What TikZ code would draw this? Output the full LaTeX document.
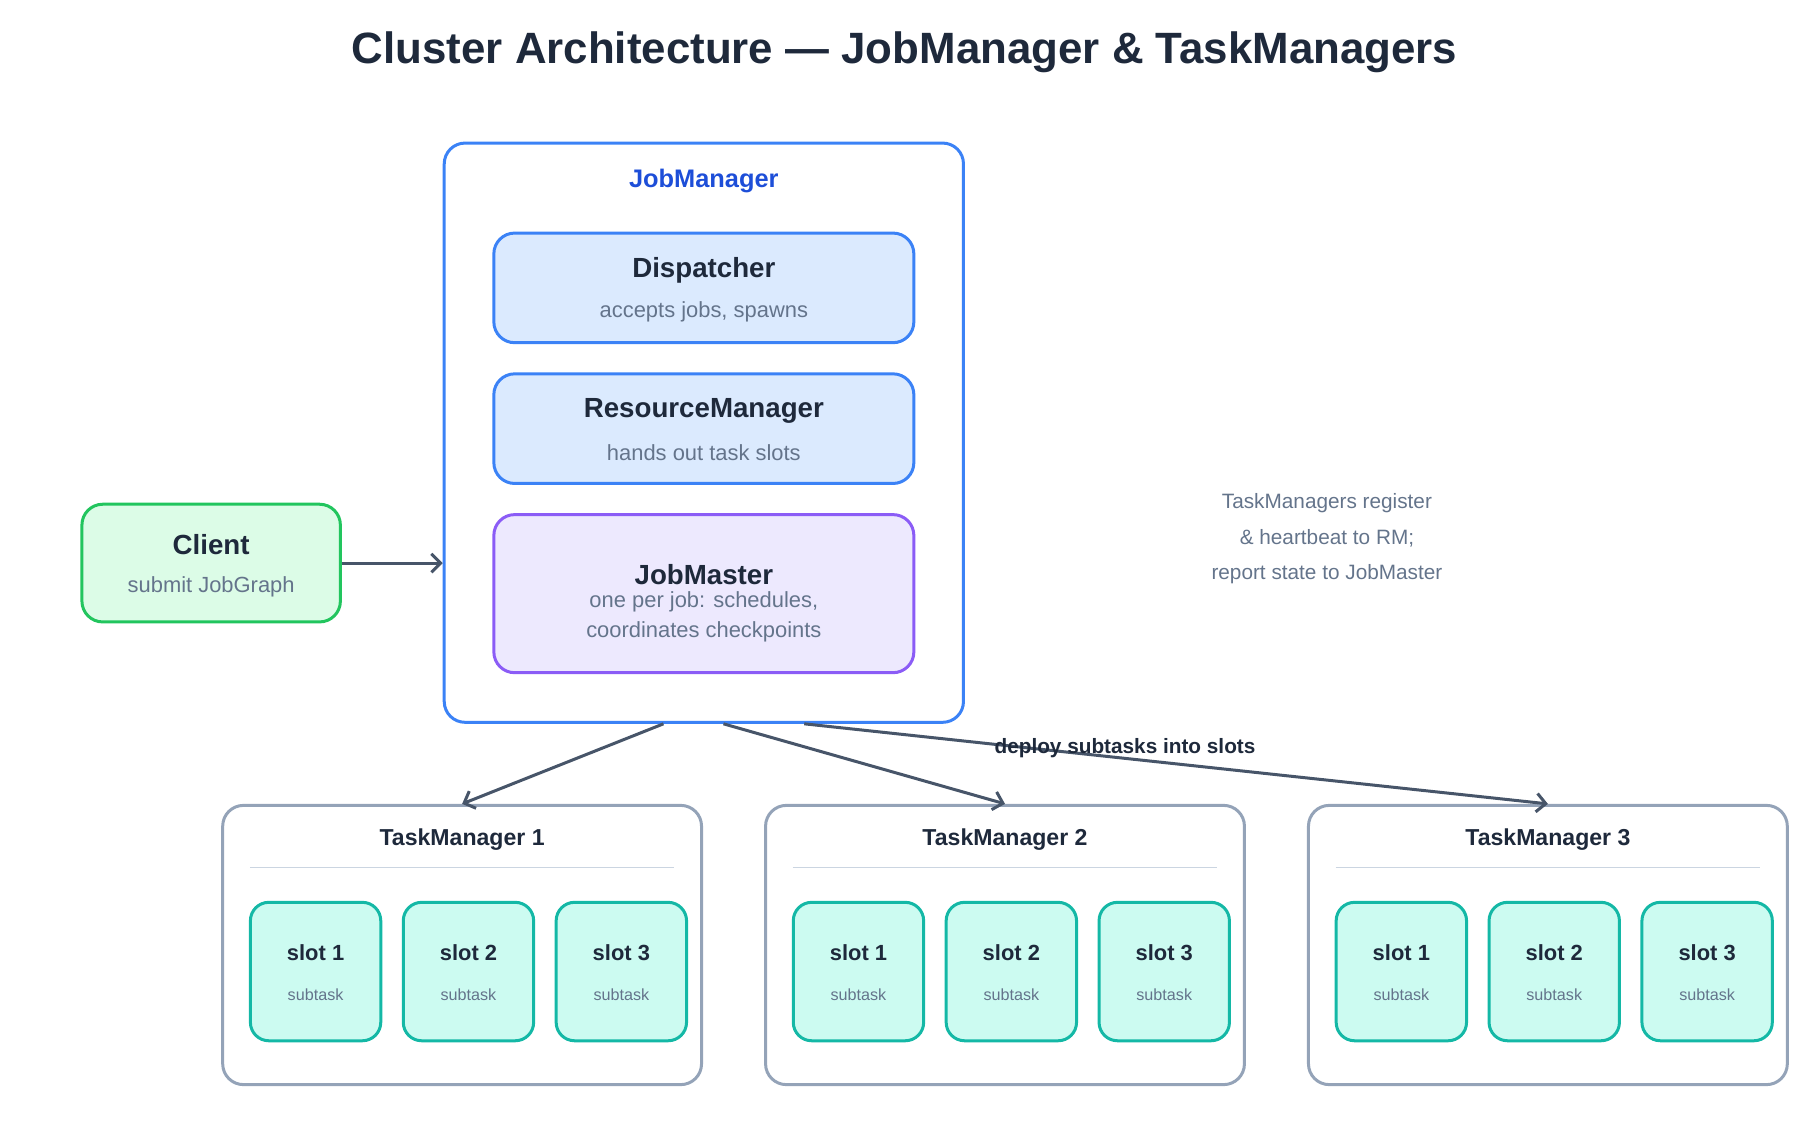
\documentclass[tikz,border=0pt]{standalone}
\usepackage{fontspec}
\setmainfont{Liberation Sans}
\usetikzlibrary{positioning}
\usetikzlibrary{calc}
\usetikzlibrary{arrows.meta}
\definecolor{ink}{HTML}{1E293B}
\definecolor{muted}{HTML}{64748B}
\definecolor{edge}{HTML}{475569}
\definecolor{jmblue}{HTML}{3B82F6}
\definecolor{jmtext}{HTML}{1D4ED8}
\definecolor{compfill}{HTML}{DBEAFE}
\definecolor{masterfill}{HTML}{EDE9FE}
\definecolor{masterline}{HTML}{8B5CF6}
\definecolor{clientfill}{HTML}{DCFCE7}
\definecolor{clientline}{HTML}{22C55E}
\definecolor{tmline}{HTML}{94A3B8}
\definecolor{rule}{HTML}{CBD5E1}
\definecolor{slotfill}{HTML}{CCFBF1}
\definecolor{slotline}{HTML}{14B8A6}
\tikzset{
  box/.style={draw, rounded corners=18pt, line width=2.6pt, inner sep=0pt},
  comp/.style={box, fill=compfill, draw=jmblue, minimum width=364pt, minimum height=95pt},
  slot/.style={draw=slotline, fill=slotfill, rounded corners=16pt, line width=2.6pt, minimum width=113pt, minimum height=120pt},
  head/.style={font=\bfseries\fontsize{24}{28}\selectfont, text=ink},
  sub/.style={font=\fontsize{19}{23}\selectfont, text=muted},
  flow/.style={-{Straight Barb[length=8pt,width=16pt]}, draw=edge, line width=2.6pt},
}
\begin{document}
\begin{tikzpicture}[x=1pt,y=-1pt]
	\useasboundingbox (0,0) rectangle (1560,971);
	\node[font=\bfseries\fontsize{38}{42}\selectfont, text=ink] (title) at (784,45) {Cluster Architecture — JobManager \& TaskManagers};
	% JobManager and its parts
	\node[box, draw=jmblue, minimum width=450pt, minimum height=502pt] (jm) at (610,375) {};
	\node[font=\bfseries\fontsize{22}{26}\selectfont, text=jmtext] (jmlabel) at (610,157) {JobManager};
	\node[comp] (disp) at (610,249.5) {};
	\node[head] at (610,234) {Dispatcher};
	\node[sub] at (610,270) {accepts jobs, spawns};
	\node[comp] (rm) at (610,371.5) {};
	\node[head] at (610,356) {ResourceManager};
	\node[sub] at (610,392) {hands out task slots};
	\node[comp, fill=masterfill, draw=masterline, minimum height=137pt] (jmaster) at (610,514.5) {};
	\node[head] at (610,498) {JobMaster};
	\node[sub] at (610,522) {one per job: schedules,};
	\node[sub] at (610,548) {coordinates checkpoints};
	% client
	\node[box, fill=clientfill, draw=clientline, minimum width=224pt, minimum height=102pt] (client) at (183,488) {};
	\node[head] at (183,472) {Client};
	\node[sub] at (183,509) {submit JobGraph};
	\draw[flow] (client.east) -- (client.east -| jm.west);
	% note
	\node[font=\fontsize{18}{22}\selectfont, text=muted, align=center] (note) at (1150,467) {TaskManagers register\\[9pt]\& heartbeat to RM;\\[9pt]report state to JobMaster};
	% task managers
	\foreach \i/\x in {1/400.5, 2/871, 3/1341.5} {
		\node[box, draw=tmline, minimum width=415pt, minimum height=242pt] (tm\i) at (\x,819) {};
		\node[font=\bfseries\fontsize{20}{24}\selectfont, text=ink] at (\x,728) {TaskManager \i};
		\draw[rule, line width=1.2pt] (\x-184,752) -- (\x+184,752);
		\foreach \s/\dx in {1/-127, 2/5.5, 3/138} {
			\node[slot] (tm\i s\s) at (\x+\dx,842) {};
			\node[font=\bfseries\fontsize{19}{23}\selectfont, text=ink] at (\x+\dx,826) {slot \s};
			\node[font=\fontsize{14}{17}\selectfont, text=muted] at (\x+\dx,862) {subtask};
		}
	}
	\draw[flow] ([xshift=-35pt]jm.south) -- (tm1.north);
	\draw[flow] ([xshift=17pt]jm.south) -- (tm2.north);
	\draw[flow] ([xshift=87pt]jm.south) -- (tm3.north);
	\node[font=\bfseries\fontsize{18}{22}\selectfont, text=ink] (deploy) at (975,648) {deploy subtasks into slots};
\end{tikzpicture}
\end{document}
